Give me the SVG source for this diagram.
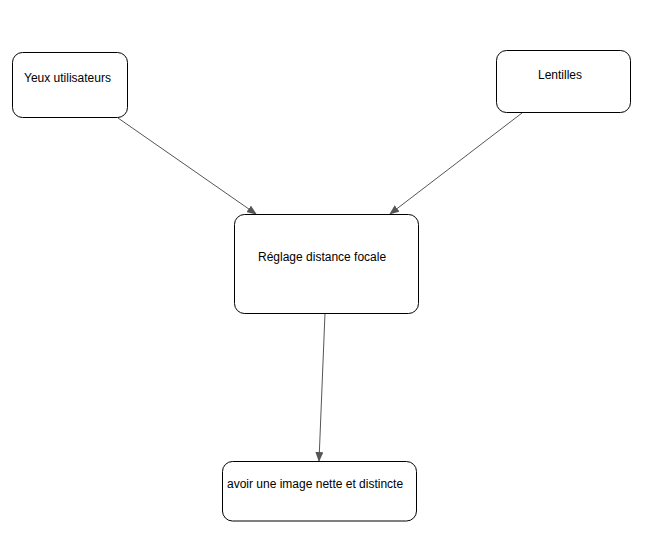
<svg xmlns="http://www.w3.org/2000/svg" width="666" height="551" viewBox="0 0 666 551">
<style>
.n{fill:#fff;stroke:#000;stroke-width:1}
.t{font-family:"Liberation Sans",Arial,sans-serif;font-size:12px;fill:#000}
.c{stroke:#555;stroke-width:1;fill:none}
</style>
<defs>
<marker id="a" markerWidth="10" markerHeight="8" refX="9" refY="4" orient="auto" markerUnits="userSpaceOnUse">
<path d="M0,0 L10,4 L0,8 Z" fill="#555"/>
</marker>
</defs>
<rect width="666" height="551" fill="#fff"/>
<g id="connectors">
<line class="c" x1="118" y1="118" x2="256" y2="214" marker-end="url(#a)"/>
<line class="c" x1="522" y1="113" x2="390" y2="214" marker-end="url(#a)"/>
<line class="c" x1="325" y1="313" x2="319" y2="461" marker-end="url(#a)"/>
</g>
<g id="yeux">
<rect class="n" x="12.5" y="52.5" width="115" height="65" rx="10"/>
<text class="t" x="24" y="82">Yeux utilisateurs</text>
</g>
<g id="lentilles">
<rect class="n" x="496.5" y="50.5" width="134" height="62" rx="10"/>
<text class="t" x="538" y="79">Lentilles</text>
</g>
<g id="reglage">
<rect class="n" x="234.5" y="214.5" width="184" height="99" rx="10"/>
<text class="t" x="258" y="261">Réglage distance focale</text>
</g>
<g id="image">
<rect class="n" x="222.5" y="461.5" width="194" height="59.5" rx="10"/>
<text class="t" x="227" y="488">avoir une image nette et distincte</text>
</g>
</svg>
